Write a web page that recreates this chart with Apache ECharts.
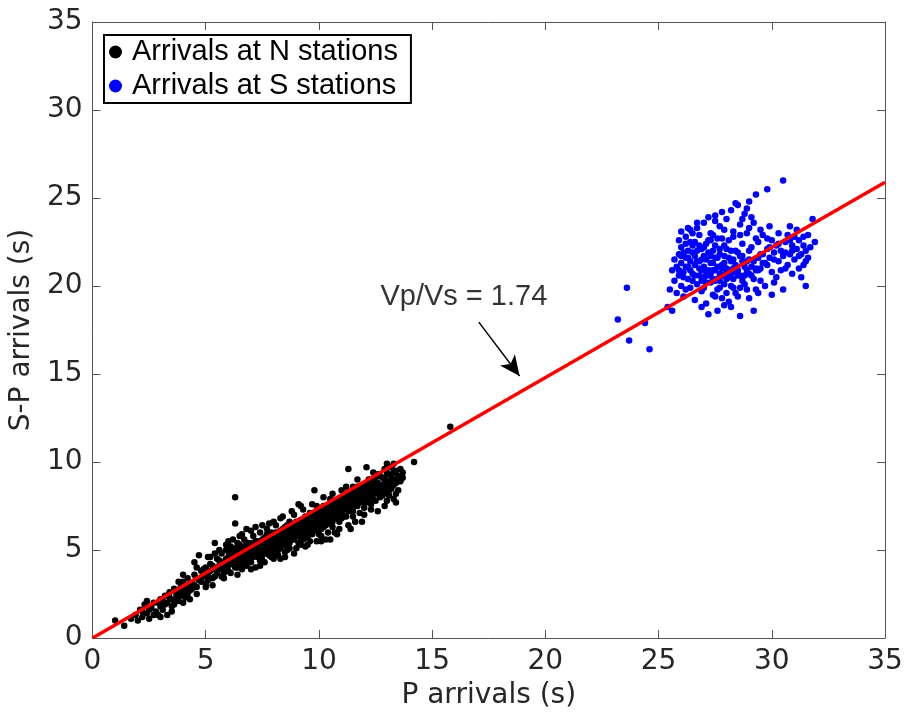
<!DOCTYPE html>
<html>
<head>
<meta charset="utf-8">
<script src="https://cdn.jsdelivr.net/npm/echarts@6/dist/echarts.min.js"></script>
<style>html,body{margin:0;padding:0;background:#fff;}#c{width:913px;height:718px;}</style>
</head>
<body>
<div id="c"></div>
<script>
// ---- data ----
const xTicks = [0, 5, 10, 15, 20, 25, 30, 35];
const yTicks = [0, 5, 10, 15, 20, 25, 30, 35];
const legendNames = ['Arrivals at N stations', 'Arrivals at S stations'];
const xTitle = 'P arrivals (s)';
const yTitle = 'S-P arrivals (s)';
const ratioText = 'Vp/Vs = 1.74';
const ratioTextPos = [16.4, 19.4];
const arrowFrom = [17.06, 17.95];
const arrowTo = [18.86, 14.89];
const fitLine = [[0, 0], [35, 25.9]];

const northArrivals = [
[1.0,1.0],[1.4,0.7],[1.7,1.1],[1.9,1.3],[2.0,1.0],[2.1,1.6],[2.2,1.2],[2.3,1.9],[2.4,1.4],[2.5,1.1],[2.6,1.7],[2.7,2.0],[2.8,1.5],[2.9,1.3],[3.0,2.2],[3.0,1.8],[3.1,1.6],[3.2,2.4],[3.3,2.0],[3.3,1.3],[3.4,2.6],[3.5,2.2],[3.6,1.9],[3.6,2.8],[3.7,2.5],[3.8,2.1],[3.9,2.9],[4.0,2.6],[4.0,3.2],[4.1,2.3],[4.2,3.0],[4.2,3.4],[4.3,2.7],[4.4,3.1],[4.5,3.6],[4.5,4.3],[4.6,2.9],[4.7,4.7],[4.7,3.3],[4.8,3.8],[4.9,3.5],[5.0,3.1],[5.0,4.0],[5.1,3.6],[5.2,4.2],[5.3,3.4],[5.4,5.4],[5.4,3.9],[5.5,4.5],[5.5,3.7],[5.6,4.1],[5.7,4.8],[5.7,3.5],[5.8,4.3],[5.9,5.0],[5.9,3.9],[6.0,4.6],[6.0,4.1],[6.1,5.2],[6.1,3.7],[6.2,4.4],[6.2,4.9],[6.3,8.0],[6.3,6.5],[6.3,4.0],[6.4,5.4],[6.4,4.6],[6.5,4.2],[6.5,5.0],[6.6,4.8],[6.6,3.9],[6.7,5.6],[6.7,4.4],[6.8,5.1],[6.8,4.1],[6.9,4.7],[6.9,5.4],[7.0,4.3],[7.0,5.0],[7.1,5.8],[7.1,4.6],[7.2,5.2],[7.2,4.0],[7.3,4.9],[7.3,5.5],[7.4,4.4],[7.4,6.0],[7.5,5.1],[7.5,4.7],[7.6,5.7],[7.6,4.3],[7.7,5.3],[7.7,6.2],[7.8,4.9],[7.8,5.5],[7.9,4.6],[7.9,6.0],[8.0,5.2],[8.0,5.8],[8.1,4.8],[8.1,6.4],[8.2,5.5],[8.2,5.0],[8.3,6.1],[8.3,4.5],[8.4,5.7],[8.4,5.3],[8.5,6.3],[8.5,4.9],[8.6,5.9],[8.6,5.4],[8.7,6.6],[8.7,5.1],[8.8,6.0],[8.8,5.6],[8.9,6.4],[8.9,4.8],[9.0,5.8],[9.0,6.2],[9.1,7.6],[9.1,5.4],[9.2,6.0],[9.2,6.7],[9.3,5.6],[9.3,6.3],[9.4,5.2],[9.4,6.9],[9.5,6.1],[9.5,5.7],[9.6,6.5],[9.6,7.1],[9.7,5.9],[9.7,6.3],[9.8,8.4],[9.8,6.8],[9.9,5.5],[9.9,6.1],[10.0,6.6],[10.0,7.2],[10.1,6.2],[10.1,5.8],[10.2,6.9],[10.2,7.5],[10.3,6.4],[10.3,5.6],[10.4,7.1],[10.4,6.7],[10.5,5.6],[10.5,7.6],[10.6,6.9],[10.6,6.3],[10.7,6.0],[10.7,7.4],[10.8,7.0],[10.8,7.8],[10.9,6.6],[10.9,7.2],[11.0,7.6],[11.0,6.8],[11.1,8.1],[11.1,7.3],[11.2,6.9],[11.3,9.6],[11.3,7.7],[11.4,6.2],[11.4,8.0],[11.5,7.4],[11.6,8.3],[11.6,6.6],[11.7,7.8],[11.8,8.5],[11.8,7.1],[11.9,8.1],[12.0,7.4],[12.0,8.7],[12.1,9.7],[12.1,7.9],[12.2,8.4],[12.3,7.6],[12.3,9.0],[12.4,8.2],[12.5,8.8],[12.5,7.8],[12.6,9.3],[12.6,8.5],[12.7,8.0],[12.8,9.1],[12.8,8.4],[12.9,7.5],[12.9,8.8],[13.0,9.4],[13.0,8.2],[13.1,8.9],[13.2,8.5],[13.2,9.2],[13.3,7.9],[13.3,8.7],[13.4,9.5],[13.5,8.9],[13.6,9.6],[13.7,9.4],[13.5,8.4],[14.2,10.0],[15.8,12.0],
[5.6,3.9],[5.8,4.0],[6.0,4.3],[6.1,4.5],[6.2,4.2],[6.3,4.7],[6.4,4.3],[6.5,4.6],[6.6,4.5],[6.7,4.9],[6.8,4.6],[6.9,5.0],[7.0,4.8],[7.1,5.1],[7.2,4.7],[7.3,5.2],[7.4,5.0],[7.5,5.4],[7.6,5.0],[7.7,5.6],[7.8,5.2],[7.9,5.4],[8.0,5.6],[8.1,5.3],[8.2,5.8],[8.3,5.6],[8.4,5.9],[8.5,5.6],[8.6,6.1],[8.7,5.8],[8.8,6.2],[8.9,5.9],[9.0,6.4],[9.1,6.1],[9.2,6.4],[9.3,6.0],[9.4,6.5],[9.5,6.4],[9.6,6.8],[9.7,6.6],[9.8,6.3],[9.9,6.9],[10.0,6.8],[10.1,7.0],[10.2,6.6],[10.3,7.2],[10.4,7.0],[10.5,7.3],[10.6,7.1],[10.7,7.6],[10.8,7.3],[10.9,7.7],[11.0,7.3],[11.1,7.7],[11.2,7.9],[11.3,7.5],[11.4,7.7],[11.5,8.1],[11.6,7.9],[11.7,8.3],[11.8,8.0],[11.9,8.4],[12.0,8.2],[12.2,8.0],[12.4,8.6],[12.6,8.8],[12.8,8.7],[13.0,8.6],[13.2,8.9],
[6.0,3.8],[6.4,4.0],[6.9,4.3],[7.5,4.4],[7.9,4.9],[8.2,4.7],[8.6,5.0],[9.2,5.3],[9.6,5.5],[10.0,5.9],[10.4,6.0],[10.9,6.2],[11.5,6.9],[12.0,7.0],[12.3,7.3],[13.0,7.8],
[5.4,4.8],[5.9,5.3],[6.2,5.6],[6.6,5.9],[7.0,6.1],[7.5,6.4],[8.0,6.6],[8.4,6.9],[8.9,7.0],[9.3,7.3],[9.9,7.5],[10.5,7.9],[11.0,8.4],[11.5,8.6],[12.2,9.0],[12.9,9.6],[13.2,9.7],
[4.3,2.2],[5.0,2.9],[3.8,3.2],[2.4,2.1],[5.1,4.6],
[2.2,1.5],[2.5,1.6],[2.7,1.3],[2.9,2.0],[3.1,2.1],[3.2,1.9],[3.4,2.3],[3.5,1.8],[3.7,2.2],[3.8,2.7],[3.9,2.4],[4.1,2.8],[4.2,2.5],[4.4,2.8],[4.5,3.0],[4.6,3.4],[4.8,3.2],[4.9,3.9],[5.1,3.3],[5.2,3.8],[5.3,4.1],[5.4,3.5],[5.5,4.0],[5.6,4.4],[5.7,4.1],[5.8,3.7],[5.9,4.5],[6.0,4.9],[6.1,4.2],[6.2,4.7],[6.3,4.4],[6.3,5.1],[6.4,4.8],[6.5,4.4],[6.5,5.3],[6.6,4.2],[6.6,5.1],[6.7,4.6],[6.7,5.2],[6.8,4.9],[6.8,5.4],[6.9,4.5],[6.9,5.2],[7.0,4.6],[7.0,5.3],[7.1,4.9],[7.1,5.4],[7.2,5.0],[7.2,5.5],[7.3,4.6],[7.3,5.0],[7.4,4.8],[7.4,5.3],[7.5,4.9],[7.5,5.6],[7.6,5.3],[7.6,4.8],[7.7,5.0],[7.7,5.9],[7.8,5.7],[7.8,4.7],[7.9,5.1],[7.9,5.7],[8.0,5.0],[8.0,5.4],[8.1,5.6],[8.1,6.0],[8.2,5.3],[8.2,6.0],[8.3,5.1],[8.3,5.8],[8.4,5.5],[8.4,6.2],[8.5,5.3],[8.5,5.9],[8.6,5.7],[8.6,6.4],[8.7,5.4],[8.7,6.1],[8.8,5.8],[8.8,6.4],[8.9,5.6],[8.9,6.2],[9.0,6.0],[9.0,6.6],[9.1,5.8],[9.1,6.4],[9.2,5.7],[9.2,6.2],[9.3,6.5],[9.3,5.9],[9.4,6.2],[9.4,6.7],[9.5,5.9],[9.5,6.7],[9.6,6.1],[9.6,6.3],[9.7,6.9],[9.7,6.1],[9.8,6.5],[9.8,7.1],[9.9,6.7],[9.9,6.3],[10.0,6.4],[10.0,7.0],[10.1,6.6],[10.1,7.3],[10.2,6.3],[10.2,7.1],[10.3,6.9],[10.3,7.5],[10.4,6.5],[10.4,7.3],[10.5,6.8],[10.5,7.1],[10.6,7.4],[10.6,6.6],[10.7,7.0],[10.7,7.8],[10.8,6.8],[10.8,7.5],[10.9,7.0],[10.9,7.9],[11.0,7.1],[11.0,8.0],[11.1,7.5],[11.1,6.9],[11.2,7.6],[11.2,8.2],[11.3,7.2],[11.3,8.0],[11.4,7.4],[11.4,8.3],[11.5,7.7],[11.5,7.2],[11.6,7.6],[11.6,8.1],[11.7,7.5],[11.7,8.6],[11.8,7.7],[11.8,8.3],[11.9,7.8],[11.9,8.7],[12.0,7.7],[12.0,8.5],[12.1,8.2],[12.1,8.8],[12.2,7.7],[12.2,8.6],[12.3,8.3],[12.3,8.8],[12.4,7.9],[12.4,8.9],[12.5,8.5],[12.5,9.1],[12.6,8.2],[12.7,8.6],[12.7,9.2],[12.8,8.1],[12.9,8.5],[12.9,9.1],[13.0,8.9],[13.1,8.4],[13.1,9.3],[13.2,8.7],[13.3,9.0],[13.3,9.4],[13.4,8.8],[13.4,8.2],[13.5,9.2],[13.6,8.9],[13.7,9.1],[13.1,8.1],
[4.0,3.6],[4.6,4.0],[5.2,4.6],[5.6,5.0],[6.0,5.5],[6.5,5.8],[6.8,6.2],[7.2,6.3],[7.8,6.5],[8.3,6.8],[8.8,7.2],[9.2,7.5],[9.7,7.6],[10.2,8.0],[10.6,8.2],[11.2,8.6],[11.7,9.0],[12.4,9.4],[13.0,9.9],[13.3,9.9],
[5.3,3.0],[5.8,3.4],[6.4,3.6],[7.0,3.9],[7.4,4.1],[8.0,4.5],[8.5,4.6],[9.0,5.1],[9.5,5.3],[10.1,5.5],[10.8,5.9],[11.3,6.4],[11.9,6.6],[12.6,7.2],[13.4,7.7],[3.0,1.2],[3.5,1.5],[4.0,2.0],[4.6,2.5]
];

const southArrivals = [
[25.6,20.9],[25.7,21.5],[25.7,20.3],[25.8,19.6],[25.8,21.1],[25.9,20.6],[25.9,21.8],[26.0,20.0],[26.0,21.3],[26.0,22.2],[26.1,20.8],[26.1,19.4],[26.2,21.6],[26.2,22.8],[26.3,20.4],[26.3,21.1],[26.4,23.2],[26.4,19.9],[26.5,21.9],[26.5,20.7],[26.6,22.5],[26.6,19.2],[26.7,21.4],[26.7,20.1],[26.8,22.9],[26.8,21.0],[26.9,19.7],[26.9,22.1],[27.0,20.5],[27.0,23.6],[27.0,21.7],[27.1,19.0],[27.1,22.4],[27.2,20.9],[27.2,18.4],[27.3,21.3],[27.3,23.0],[27.4,19.5],[27.4,22.0],[27.5,20.3],[27.5,24.0],[27.5,21.6],[27.6,19.8],[27.6,22.7],[27.7,20.7],[27.7,23.4],[27.8,19.3],[27.8,21.2],[27.9,22.3],[27.9,20.1],[28.0,23.8],[28.0,21.0],[28.0,19.6],[28.1,22.6],[28.1,20.5],[28.2,24.3],[28.2,21.4],[28.3,19.9],[28.3,23.1],[28.4,20.8],[28.4,22.0],[28.5,24.6],[28.5,19.4],[28.6,21.7],[28.6,23.5],[28.7,20.3],[28.7,22.4],[28.8,24.1],[28.8,21.1],[28.9,19.8],[28.9,23.0],[29.0,21.5],[29.0,24.8],[29.1,20.6],[29.1,22.2],[29.2,23.6],[29.3,21.0],[29.3,25.2],[29.4,22.5],[29.5,20.3],[29.5,21.8],[29.6,22.9],[29.7,21.3],[29.7,20.0],[29.8,25.5],[29.8,22.1],[29.9,21.6],[30.0,22.6],[30.0,20.8],[30.1,21.9],[30.2,22.3],[30.3,21.4],[30.3,23.0],[30.4,22.0],[30.5,26.0],[30.5,21.7],[30.5,19.8],[30.6,22.5],[30.7,21.2],[30.7,22.9],[30.8,21.8],[30.9,22.3],[31.0,21.5],[31.0,22.8],[31.1,22.1],[31.2,21.0],[31.2,22.6],[31.3,21.8],[31.4,22.3],[31.5,20.0],[31.5,22.0],[31.6,21.6],[31.8,23.8],[31.9,22.5],[31.7,22.2],
[23.2,18.1],[23.6,19.9],[23.7,16.9],[24.4,17.9],[24.6,16.4],[25.4,18.8],[25.5,19.8],[25.6,18.6],
[26.1,21.9],[26.3,21.6],[26.5,20.3],[26.6,21.2],[26.8,20.6],[26.9,21.5],[27.0,19.9],[27.1,20.8],[27.2,21.9],[27.3,20.2],[27.4,20.9],[27.5,19.4],[27.6,21.1],[27.7,19.9],[27.8,20.6],[27.9,21.7],[28.0,20.4],[28.1,19.1],[28.2,20.0],[28.3,21.0],[28.4,19.6],[28.5,20.6],[28.6,19.9],[28.7,21.4],[28.8,20.1],[28.9,20.9],[29.0,19.3],[29.1,21.1],[29.2,20.4],[29.3,19.8],[29.4,20.9],[29.6,21.3],[28.2,18.8],[27.6,18.6],[27.9,18.9],[26.9,18.8],[29.4,19.6],[30.1,20.2],[26.4,22.5],[26.7,23.3],[27.2,23.9],[27.8,24.2],[28.4,24.7],[27.4,22.9],[27.9,23.2],[28.9,24.4],[29.1,23.9],[26.3,23.3],[26.7,23.6],[25.9,22.6],[26.0,23.1],[29.5,23.2],[29.9,23.4],[30.2,20.5],[30.4,20.9],[30.9,20.7],[31.3,20.5],[31.1,23.2],[31.6,22.9],[30.8,23.4],[30.0,19.5],[29.2,18.6],[28.6,18.3],[26.2,19.8],[25.9,20.9],[26.8,22.3],[27.3,22.6],[27.7,22.1],[28.3,22.8],[28.6,22.9],[29.3,22.7],[29.8,22.7],[30.6,21.0],[31.4,21.2],[30.9,22.0],
[26.0,21.7],[26.1,20.5],[26.2,21.1],[26.3,22.0],[26.4,20.9],[26.4,21.4],[26.5,22.3],[26.6,20.6],[26.6,21.7],[26.7,22.0],[26.8,21.4],[26.9,20.3],[26.9,20.9],[27.0,22.2],[27.0,21.1],[27.1,21.5],[27.1,20.2],[27.2,22.6],[27.2,20.6],[27.3,21.7],[27.3,20.7],[27.4,21.3],[27.4,20.4],[27.5,22.3],[27.5,20.9],[27.6,21.6],[27.6,20.4],[27.7,21.8],[27.7,20.3],[27.8,22.7],[27.8,21.0],[27.9,21.3],[27.9,20.6],[28.0,22.1],[28.0,20.8],[28.1,21.6],[28.1,20.9],[28.2,22.0],[28.2,20.7],[28.3,21.5],[28.3,20.4],[28.4,21.2],[28.5,21.9],[28.5,20.9],[28.6,20.6],[28.7,21.7],[28.8,20.6],[28.9,21.4],[29.0,20.7],[29.0,22.0],[29.2,21.4],[29.3,20.9],[29.4,21.6],[29.5,21.0],[29.6,21.8],[29.8,21.2],[29.9,22.2],[30.1,21.5],[30.3,22.4],[30.6,21.9],[30.8,22.6],[31.0,22.1],[31.2,21.7],[31.4,22.8],[31.5,21.4],[26.5,23.0],[27.5,23.7],[28.7,23.8],[29.0,23.3],[26.2,22.4]
];

// ---- chart ----
const tickFont = 'DejaVu Sans';
const textCol = '#262626';
const frameCol = '#555555';
const chart = echarts.init(document.getElementById('c'), null, {renderer: 'canvas'});

function axisBase(pos, show) {
  return {
    type: 'value', min: xTicks[0], max: xTicks[xTicks.length - 1], interval: 5, position: pos,
    splitLine: {show: false},
    axisLine: {show: true, onZero: false, lineStyle: {color: frameCol, width: 1}},
    axisTick: {show: true, inside: true, length: 8, lineStyle: {color: frameCol, width: 1}},
    axisLabel: {show: show, fontFamily: tickFont, fontSize: 28, color: textCol, margin: 10}
  };
}

const xa0 = axisBase('bottom', true);
xa0.name = xTitle; xa0.nameLocation = 'middle'; xa0.nameGap = 44;
xa0.nameTextStyle = {fontFamily: tickFont, fontSize: 28, color: textCol};
const xa1 = axisBase('top', false);
const ya0 = axisBase('left', true);
ya0.min = yTicks[0]; ya0.max = yTicks[yTicks.length - 1];
ya0.name = yTitle; ya0.nameLocation = 'middle'; ya0.nameGap = 50;
ya0.nameTextStyle = {fontFamily: tickFont, fontSize: 28, color: textCol};
const ya1 = axisBase('right', false);

chart.setOption({
  animation: false,
  backgroundColor: '#ffffff',
  grid: {left: 91, right: 28, top: 22, bottom: 80, containLabel: false},
  legend: {
    show: true, orient: 'vertical', left: 104, top: 35,
    data: legendNames,
    icon: 'circle', itemWidth: 13, itemHeight: 13, itemGap: 4,
    backgroundColor: '#fff', borderColor: '#000', borderWidth: 2, borderRadius: 0,
    padding: [2, 13, 2, 5],
    textStyle: {fontFamily: 'Liberation Sans', fontSize: 29, color: '#000', lineHeight: 30, padding: [0, 0, 0, 5]}
  },
  xAxis: [xa0, xa1],
  yAxis: [ya0, ya1],
  series: [
    {
      name: legendNames[0], type: 'scatter', data: northArrivals, symbolSize: 6.5,
      itemStyle: {color: '#000000', opacity: 1}, z: 2
    },
    {
      name: legendNames[1], type: 'scatter', data: southArrivals, symbolSize: 6.5,
      itemStyle: {color: '#0000ff', opacity: 1}, z: 2
    },
    {
      name: 'fit', type: 'line', data: fitLine, symbol: 'none', z: 5,
      lineStyle: {color: '#ff0000', width: 3.5},
      markLine: {
        silent: true, symbol: ['none', 'arrow'], symbolSize: [14, 20],
        lineStyle: {color: '#000', width: 1.5, type: 'solid'},
        label: {show: false},
        data: [[{coord: arrowFrom}, {coord: arrowTo}]]
      }
    },
    {
      name: 'label', type: 'scatter', data: [ratioTextPos], symbolSize: 0, z: 6,
      label: {show: true, position: 'inside', formatter: ratioText,
        fontFamily: 'Liberation Sans', fontSize: 29, color: '#000', textBorderWidth: 0}
    }
  ]
});
</script>
</body>
</html>
